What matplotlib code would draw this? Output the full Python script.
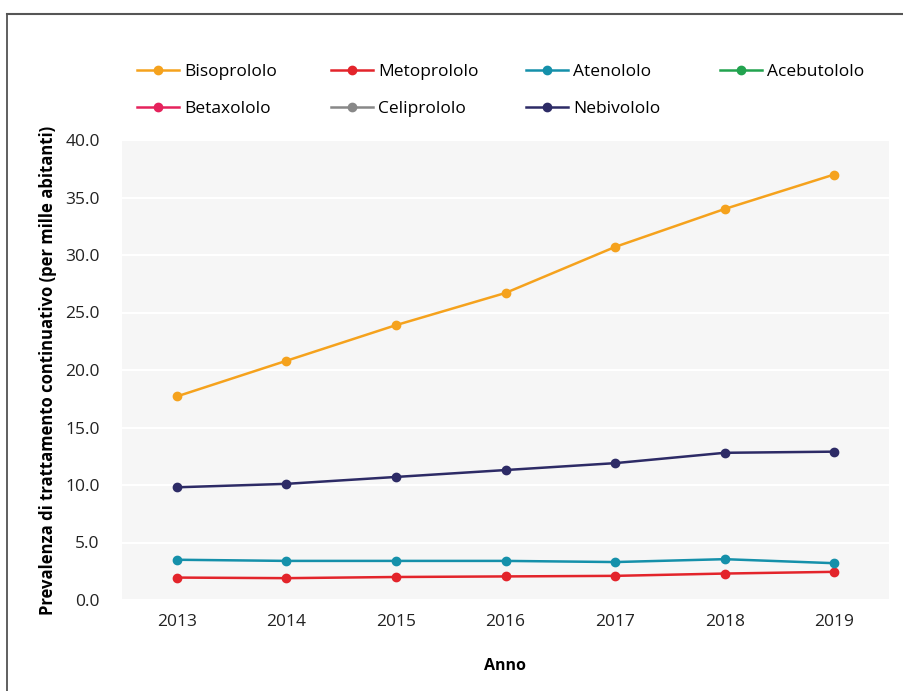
import matplotlib.pyplot as plt
from matplotlib.lines import Line2D

plt.rcParams['font.family'] = ['Open Sans', 'DejaVu Sans']

# anni e valori (per mille abitanti)
anni = [2013, 2014, 2015, 2016, 2017, 2018, 2019]
bisoprololo = [17.7, 20.8, 23.9, 26.7, 30.7, 34.0, 37.0]
metoprololo = [1.95, 1.9, 2.0, 2.05, 2.1, 2.3, 2.45]
atenololo = [3.5, 3.4, 3.4, 3.4, 3.3, 3.55, 3.2]
nebivololo = [9.8, 10.1, 10.7, 11.3, 11.9, 12.8, 12.9]
yticks = [0, 5, 10, 15, 20, 25, 30, 35, 40]

serie = [
    ('Bisoprololo', bisoprololo, '#F5A21D'),
    ('Metoprololo', metoprololo, '#E3242B'),
    ('Atenololo', atenololo, '#1590AA'),
    ('Acebutololo', None, '#22A34F'),
    ('Betaxololo', None, '#E5225C'),
    ('Celiprololo', None, '#888888'),
    ('Nebivololo', nebivololo, '#2D2B66'),
]

fig = plt.figure(figsize=(9.04, 6.91), dpi=100)
ax = fig.add_axes([122 / 904, 1 - 600 / 691, (889 - 122) / 904, (600 - 140) / 691])
ax.set_facecolor('#F6F6F6')

handles = {}
for nome, vals, col in serie:
    if vals is not None:
        h, = ax.plot(anni, vals, color=col, lw=1.8, marker='o', ms=6, zorder=3)
    else:
        h = Line2D([], [], color=col, lw=1.8, marker='o', ms=6)
    handles[nome] = h

ax.set_xlim(2012.5, 2019.5)
ax.set_ylim(0, 40)
ax.set_xticks(anni)
ax.set_yticks(yticks)
ax.set_yticklabels([f'{v:.1f}' for v in yticks])
ax.grid(axis='y', color='white', lw=1.5)
ax.set_axisbelow(True)
for s in ax.spines.values():
    s.set_visible(False)
ax.tick_params(axis='both', length=0, labelsize=12.5, colors='#222222')
ax.tick_params(axis='y', pad=16)
ax.tick_params(axis='x', pad=10)

ax.set_xlabel('Anno', fontsize=11.5, fontweight='bold', labelpad=20)
ax.set_ylabel('Prevalenza di trattamento continuativo (per mille abitanti)',
              fontsize=12, fontweight='bold', labelpad=6)

# legenda: due righe, quattro colonne
pos = {
    'Bisoprololo': (137, 72), 'Metoprololo': (331, 72), 'Atenololo': (526, 72),
    'Acebutololo': (720, 72), 'Betaxololo': (137, 109), 'Celiprololo': (331, 109),
    'Nebivololo': (526, 109),
}
for nome, (px, py) in pos.items():
    fig.legend(handles=[handles[nome]], labels=[nome], loc='center left',
               bbox_to_anchor=(px / 904, 1 - py / 691), frameon=False,
               fontsize=12.5, handlelength=2.4, handletextpad=0.3,
               borderpad=0, borderaxespad=0)

# cornice
fig.add_artist(Line2D([7 / 904, 7 / 904], [0, 1 - 14 / 691], color='#444444', lw=1.2))
fig.add_artist(Line2D([7 / 904, 1], [1 - 14 / 691, 1 - 14 / 691], color='#555555', lw=1.5))

fig.savefig('out.png', dpi=100)
